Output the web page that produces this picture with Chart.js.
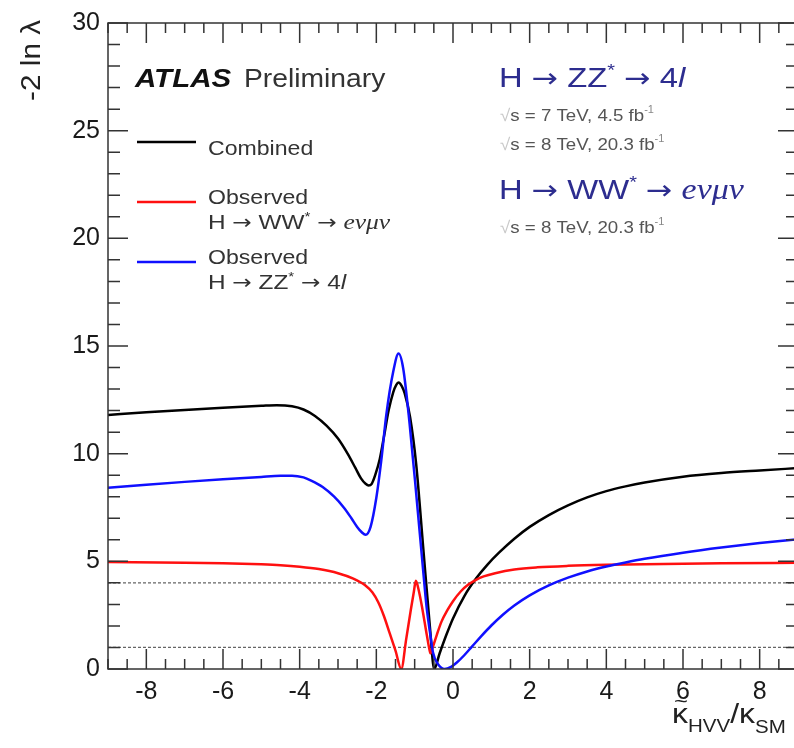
<!DOCTYPE html>
<html>
<head>
<meta charset="utf-8">
<script src="https://cdn.jsdelivr.net/npm/chart.js@4.4.1/dist/chart.umd.min.js"></script>
<style>
  html, body { margin: 0; padding: 0; background: #fff; overflow: hidden; }
  #wrap { width: 794px; height: 748px; overflow: hidden; }
</style>
</head>
<body>
<div id="wrap"><canvas id="chart1" width="800" height="748"></canvas></div>
<script>
'use strict';

// profile likelihood scans, -2 ln lambda vs kappa~HVV / kappa SM
var combinedKappa = [-9, -8, -7, -6, -5, -4.6, -4.2, -3.9, -3.6, -3.3, -3.0, -2.75, -2.55, -2.4, -2.28, -2.2, -2.12, -2.03, -1.91, -1.8, -1.68, -1.56, -1.48, -1.42, -1.34, -1.26, -1.12, -0.96, -0.78, -0.6, -0.49, -0.35, -0.17, 0, 0.3, 0.6, 0.9, 1.2, 1.6, 2.0, 2.5, 3, 3.5, 4, 4.5, 5, 6, 7, 8, 9];
var combinedNll = [11.8, 11.92, 12.03, 12.13, 12.22, 12.25, 12.2, 12.05, 11.75, 11.3, 10.7, 10.0, 9.35, 8.85, 8.6, 8.52, 8.6, 9.0, 9.75, 10.8, 12.0, 12.85, 13.2, 13.3, 13.15, 12.8, 11.7, 9.5, 5.7, 1.9, 0, 0.72, 1.6, 2.35, 3.4, 4.2, 4.85, 5.4, 6.05, 6.6, 7.15, 7.6, 7.97, 8.26, 8.48, 8.66, 8.93, 9.1, 9.22, 9.33];

var wwKappa = [-9, -7, -6, -5, -4.5, -4, -3.5, -3.0, -2.6, -2.3, -2.1, -1.95, -1.8, -1.65, -1.5, -1.35, -1.22, -1.1, -1.02, -0.97, -0.9, -0.8, -0.7, -0.62, -0.59, -0.52, -0.42, -0.3, -0.15, 0, 0.2, 0.4, 0.6, 0.8, 1.1, 1.6, 2.2, 3, 4, 5, 7, 9];
var wwNll = [4.97, 4.94, 4.91, 4.86, 4.82, 4.75, 4.64, 4.45, 4.2, 3.9, 3.55, 3.1, 2.45, 1.65, 0.85, 0, 1.4, 2.75, 3.6, 4.1, 3.7, 2.8, 1.75, 0.95, 0.73, 1.05, 1.6, 2.2, 2.72, 3.15, 3.6, 3.92, 4.14, 4.3, 4.45, 4.62, 4.72, 4.79, 4.84, 4.87, 4.91, 4.93];

var zzKappa = [-9, -8, -7, -6, -5, -4.5, -4.2, -3.9, -3.7, -3.4, -3.1, -2.85, -2.65, -2.5, -2.38, -2.28, -2.15, -2.0, -1.87, -1.74, -1.56, -1.42, -1.3, -1.13, -0.95, -0.78, -0.69, -0.6, -0.52, -0.4, -0.22, -0.05, 0.1, 0.3, 0.5, 0.75, 1.0, 1.3, 1.6, 2.0, 2.5, 3.0, 3.5, 4.0, 4.5, 5, 6, 7, 8, 9];
var zzNll = [8.42, 8.56, 8.69, 8.81, 8.92, 8.97, 8.98, 8.9, 8.75, 8.45, 8.0, 7.5, 7.0, 6.6, 6.35, 6.23, 6.6, 7.95, 9.7, 11.8, 13.8, 14.65, 13.97, 11.35, 7.95, 4.6, 2.9, 1.7, 0.75, 0.25, 0, 0.1, 0.3, 0.65, 1.05, 1.55, 2.02, 2.52, 2.95, 3.42, 3.88, 4.24, 4.53, 4.76, 4.95, 5.12, 5.4, 5.64, 5.85, 6.03];

var thresholdLevels = [1, 4];
var xTickValues = [-8, -6, -4, -2, 0, 2, 4, 6, 8];
var yTickValues = [0, 5, 10, 15, 20, 25, 30];

var SANS = '"Liberation Sans", Arial, Helvetica, sans-serif';
var SERIF = '"Liberation Serif", "Times New Roman", serif';
var ARROW = '"DejaVu Sans", sans-serif';
var HEAD_BLUE = '#2d2d8f';
var SX = 1.1;

var toPoints = function(xs, ys) {
	return xs.map(function(x, i) { return { x: x, y: ys[i] }; });
};

var curve = function(label, xs, ys, color, order) {
	return {
		label: label,
		data: toPoints(xs, ys),
		borderColor: color,
		borderWidth: 2.5,
		pointRadius: 0,
		cubicInterpolationMode: 'monotone',
		fill: false,
		order: order
	};
};

var datasets = thresholdLevels.map(function(level) {
	return {
		label: 'level ' + level,
		data: [{ x: -9, y: level }, { x: 9, y: level }],
		borderColor: '#666',
		borderWidth: 1.3,
		borderDash: [3, 2],
		pointRadius: 0,
		order: 5
	};
});
datasets.push(curve('Combined', combinedKappa, combinedNll, '#000000', 2));
datasets.push(curve('Observed WW', wwKappa, wwNll, '#ff1010', 1));
datasets.push(curve('Observed ZZ', zzKappa, zzNll, '#1010ff', 0));

// draws a row of text pieces, slightly widened like the original
var drawRuns = function(ctx, x, y, runs, sx) {
	ctx.save();
	ctx.translate(x, y);
	ctx.scale(sx || SX, 1);
	ctx.textAlign = 'left';
	ctx.textBaseline = 'alphabetic';
	var cx = 0;
	runs.forEach(function(r) {
		ctx.font = r.font;
		ctx.fillStyle = r.color;
		ctx.fillText(r.text, cx, r.dy || 0);
		cx += ctx.measureText(r.text).width;
	});
	ctx.restore();
};

var decayRuns = function(boson, final, size, color, italicSerif) {
	var f = size + 'px ' + SANS;
	var sup = Math.round(size * 0.6) + 'px ' + SANS;
	var arr = Math.round(size * 0.95) + 'px ' + ARROW;
	var runs = [
		{ text: 'H ', font: f, color: color },
		{ text: '\u2192', font: arr, color: color },
		{ text: ' ' + boson, font: f, color: color },
		{ text: '*', font: sup, color: color, dy: -size * 0.38 },
		{ text: ' ', font: f, color: color },
		{ text: '\u2192', font: arr, color: color },
		{ text: ' ', font: f, color: color }
	];
	if (italicSerif) {
		runs.push({ text: final, font: 'italic ' + Math.round(size * 1.05) + 'px ' + SERIF, color: color });
	} else {
		runs.push({ text: final.slice(0, -1), font: f, color: color });
		runs.push({ text: final.slice(-1), font: 'italic ' + f, color: color });
	}
	return runs;
};

var energyRuns = function(text) {
	return [
		{ text: '\u221a', font: '17px ' + SANS, color: '#c8c8c8' },
		{ text: text, font: '17px ' + SANS, color: '#555' },
		{ text: '-1', font: '10px ' + SANS, color: '#888', dy: -8 }
	];
};

var frameTicks = {
	id: 'frameTicks',
	afterDatasetsDraw: function(chart) {
		var ctx = chart.ctx;
		var a = chart.chartArea;
		var xs = chart.scales.x;
		var ys = chart.scales.y;
		ctx.save();
		ctx.strokeStyle = '#333';
		ctx.lineWidth = 1.5;
		ctx.strokeRect(a.left, a.top, a.right - a.left, a.bottom - a.top);
		ctx.beginPath();
		var v, p, len;
		for (v = -9; v <= 9.001; v += 0.5) {
			p = xs.getPixelForValue(v);
			len = (Math.abs(v % 2) < 1e-6) ? 20 : 10;
			ctx.moveTo(p, a.bottom); ctx.lineTo(p, a.bottom - len);
			ctx.moveTo(p, a.top); ctx.lineTo(p, a.top + len);
		}
		for (v = 0; v <= 30; v += 1) {
			p = ys.getPixelForValue(v);
			len = (v % 5 === 0) ? 20 : 12;
			ctx.moveTo(a.left, p); ctx.lineTo(a.left + len, p);
			ctx.moveTo(a.right, p); ctx.lineTo(a.right - len, p);
		}
		ctx.stroke();
		ctx.restore();
	},
	afterDraw: function(chart) {
		var ctx = chart.ctx;
		ctx.save();

		// y axis title
		ctx.translate(33, 20);
		ctx.rotate(-Math.PI / 2);
		ctx.scale(SX, 1);
		ctx.font = '27px ' + SANS;
		ctx.fillStyle = '#222';
		ctx.textAlign = 'right';
		ctx.textBaseline = 'middle';
		ctx.fillText('-2 ln \u03bb', 0, 0);
		ctx.restore();

		// x axis title
		var kf = '28px ' + SANS;
		var sf = '18px ' + SANS;
		drawRuns(ctx, 672, 723, [
			{ text: '\u03ba', font: kf, color: '#222' },
			{ text: 'HVV', font: sf, color: '#222', dy: 9 },
			{ text: '/\u03ba', font: kf, color: '#222' },
			{ text: 'SM', font: sf, color: '#222', dy: 10 }
		], 1.14);
		drawRuns(ctx, 674, 708, [{ text: '~', font: '20px ' + SANS, color: '#222' }], 1.2);

		// ATLAS label
		drawRuns(ctx, 135, 87, [{ text: 'ATLAS', font: 'italic bold 25px ' + SANS, color: '#111' }], 1.18);
		drawRuns(ctx, 244, 87, [{ text: 'Preliminary', font: '25px ' + SANS, color: '#333' }], 1.13);

		// legend
		var leg = [
			{ y: 142, color: '#000000' },
			{ y: 202, color: '#ff1010' },
			{ y: 262, color: '#1010ff' }
		];
		ctx.save();
		ctx.lineWidth = 2.5;
		leg.forEach(function(l) {
			ctx.strokeStyle = l.color;
			ctx.beginPath(); ctx.moveTo(137, l.y); ctx.lineTo(196, l.y); ctx.stroke();
		});
		ctx.restore();
		var lf = '21px ' + SANS;
		drawRuns(ctx, 208, 155, [{ text: 'Combined', font: lf, color: '#333' }]);
		drawRuns(ctx, 208, 204, [{ text: 'Observed', font: lf, color: '#333' }]);
		drawRuns(ctx, 208, 229, decayRuns('WW', 'e\u03bd\u03bc\u03bd', 21, '#333', true), 1.16);
		drawRuns(ctx, 208, 264, [{ text: 'Observed', font: lf, color: '#333' }]);
		drawRuns(ctx, 208, 289, decayRuns('ZZ', '4l', 21, '#333', false), 1.16);

		// channel info
		drawRuns(ctx, 499, 87, decayRuns('ZZ', '4l', 28, HEAD_BLUE, false), 1.17);
		drawRuns(ctx, 500, 121, energyRuns('s = 7 TeV, 4.5 fb'));
		drawRuns(ctx, 500, 150, energyRuns('s = 8 TeV, 20.3 fb'));
		drawRuns(ctx, 499, 199, decayRuns('WW', 'e\u03bd\u03bc\u03bd', 28, HEAD_BLUE, true), 1.17);
		drawRuns(ctx, 500, 233, energyRuns('s = 8 TeV, 20.3 fb'));
	}
};

var tickFont = { family: SANS, size: 25 };

var ctx = document.getElementById('chart1').getContext('2d');
var scanChart = new Chart(ctx, {
	type: 'line',
	data: { datasets: datasets },
	options: {
		responsive: false,
		animation: false,
		devicePixelRatio: 1,
		layout: { padding: { left: 0, right: 2, top: 21, bottom: 0 } },
		plugins: {
			legend: { display: false },
			tooltip: { enabled: false }
		},
		scales: {
			x: {
				type: 'linear',
				min: -9,
				max: 9,
				grid: { display: false, drawTicks: false },
				border: { display: false },
				afterBuildTicks: function(scale) {
					scale.ticks = xTickValues.map(function(v) { return { value: v }; });
				},
				afterFit: function(scale) { scale.height = 79; },
				ticks: { padding: 8, font: tickFont, color: '#1a1a1a', maxRotation: 0, autoSkip: false }
			},
			y: {
				type: 'linear',
				min: 0,
				max: 30,
				grid: { display: false, drawTicks: false },
				border: { display: false },
				afterBuildTicks: function(scale) {
					scale.ticks = yTickValues.map(function(v) { return { value: v }; });
				},
				afterFit: function(scale) { scale.width = 108; },
				ticks: { padding: 8, font: tickFont, color: '#1a1a1a', autoSkip: false }
			}
		}
	},
	plugins: [frameTicks]
});
</script>
</body>
</html>
